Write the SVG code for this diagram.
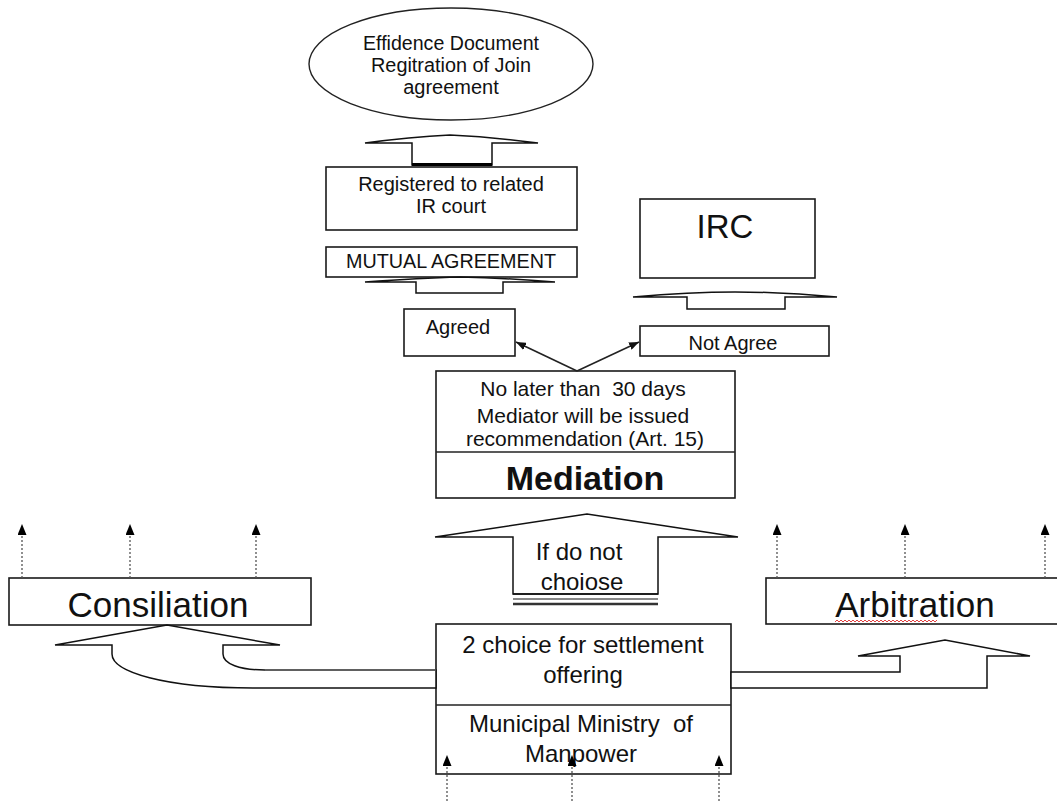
<svg xmlns="http://www.w3.org/2000/svg" width="1057" height="801" viewBox="0 0 1057 801">
<defs>
<style>
.box{fill:#fff;stroke:#1a1a1a;stroke-width:1.6}
.t{font-family:"Liberation Sans",Arial,sans-serif;fill:#111;text-anchor:middle}
.s20{font-size:20px}
.s21{font-size:21px}
.s24{font-size:24px}
.big{font-size:35px}
.blk{fill:#fff;stroke:#111;stroke-width:1.5;stroke-linejoin:miter}
.dot{stroke:#555;stroke-width:1.3;stroke-dasharray:2 2;fill:none}
.ln{stroke:#222;stroke-width:1.6;fill:none}
</style>
<marker id="tri" viewBox="0 0 11 9" markerWidth="11" markerHeight="9" refX="0" refY="4.5" orient="auto" markerUnits="userSpaceOnUse">
<path d="M0,0 L11,4.5 L0,9 z" fill="#000"/>
</marker>
<marker id="ah" viewBox="0 0 10 8" markerWidth="10" markerHeight="8" refX="10" refY="4" orient="auto" markerUnits="userSpaceOnUse">
<path d="M0,0 L10,4 L0,8 z" fill="#111"/>
</marker>
</defs>
<rect width="1057" height="801" fill="#fff"/>

<g id="evidence">
<ellipse cx="451" cy="64" rx="142" ry="56" fill="#fff" stroke="#222" stroke-width="1.4"/>
<text class="t s20" x="451" y="50" textLength="176" lengthAdjust="spacingAndGlyphs">Effidence Document</text>
<text class="t s20" x="451" y="72" textLength="160" lengthAdjust="spacingAndGlyphs">Regitration of Join</text>
<text class="t s20" x="451" y="94">agreement</text>
</g>

<g id="registered">
<rect class="box" x="326" y="167" width="251" height="63"/>
<text class="t s20" x="451" y="191">Registered to related</text>
<text class="t s20" x="451" y="213">IR court</text>
</g>

<g id="mutual">
<rect class="box" x="326" y="247" width="251" height="30"/>
<text class="t s20" x="451" y="268" textLength="210" lengthAdjust="spacingAndGlyphs">MUTUAL AGREEMENT</text>
</g>

<g id="irc">
<rect class="box" x="640" y="199" width="175" height="79"/>
<text class="t" style="font-size:33px" x="725" y="238">IRC</text>
</g>

<g id="agreed">
<rect class="box" x="404" y="309" width="111" height="47"/>
<text class="t s20" x="458" y="334">Agreed</text>
</g>

<g id="notagree">
<rect class="box" x="640" y="326" width="189" height="30"/>
<text class="t s20" x="733" y="350">Not Agree</text>
</g>

<g id="mediation">
<rect class="box" x="436" y="371" width="299" height="127"/>
<line class="ln" x1="436" y1="452" x2="735" y2="452"/>
<text class="t s21" x="583" y="396" style="white-space:pre">No later than  30 days</text>
<text class="t s21" x="583" y="423">Mediator will be issued</text>
<text class="t s21" x="585" y="446">recommendation (Art. 15)</text>
<text class="t" style="font-size:34px;font-weight:bold" x="585" y="490">Mediation</text>
</g>

<g id="consiliation">
<rect class="box" x="9" y="578" width="302" height="47"/>
<text class="t big" x="158" y="617">Consiliation</text>
</g>

<g id="arbitration">
<rect class="box" x="766" y="578" width="300" height="46"/>
<text class="t big" x="915" y="617">Arbitration</text>
<path d="M835,622 l2,-2 l2,2 l2,-2 l2,2 l2,-2 l2,2 l2,-2 l2,2 l2,-2 l2,2 l2,-2 l2,2 l2,-2 l2,2 l2,-2 l2,2 l2,-2 l2,2 l2,-2 l2,2 l2,-2 l2,2 l2,-2 l2,2 l2,-2 l2,2 l2,-2 l2,2 l2,-2 l2,2 l2,-2 l2,2 l2,-2 l2,2 l2,-2 l2,2 l2,-2 l2,2 l2,-2 l2,2 l2,-2 l2,2 l2,-2 l2,2 l2,-2 l2,2 l2,-2 l2,2 l2,-2 l2,2 l2,-2" fill="none" stroke="#e04040" stroke-width="1"/>
</g>

<g id="ministry">
<rect class="box" x="436" y="624" width="295" height="150"/>
<line class="ln" x1="436" y1="705" x2="731" y2="705"/>
<text class="t s24" x="583" y="653">2 choice for settlement</text>
<text class="t s24" x="583" y="683">offering</text>
<text class="t s24" x="581" y="732" style="white-space:pre">Municipal Ministry  of</text>
<text class="t s24" x="581" y="762">Manpower</text>
</g>

<g id="connectors">
<!-- block arrow: registered -> evidence -->
<path class="blk" d="M412,165 L412,143 L365,143 Q410,137 450,135 Q492,137 538,143 L492,143 L492,165 Z"/>
<line x1="412" y1="164.5" x2="492" y2="164.5" stroke="#000" stroke-width="3"/>
<!-- block arrow: agreed -> mutual -->
<path class="blk" d="M416,293 L416,282 L365,282 Q420,278 460,277 Q505,278 555,282 L503,282 L503,293 Z"/>
<!-- block arrow: not agree -> IRC -->
<path class="blk" d="M687,309 L687,297 L633,297 Q690,292 735,292 Q785,292 837,297 L785,297 L785,309 Z"/>
<!-- mediation -> agreed / not agree -->
<line class="ln" x1="577" y1="371" x2="516" y2="342" marker-end="url(#ah)"/>
<line class="ln" x1="577" y1="371" x2="639" y2="342" marker-end="url(#ah)"/>
<!-- block arrow: ministry -> mediation -->
<path class="blk" d="M513,594 L513,537 L435,537 L587,514 L738,537 L658,537 L658,594 Z"/>
<line x1="513" y1="594" x2="658" y2="594" stroke="#111" stroke-width="1.6"/>
<line x1="513" y1="599" x2="658" y2="599" stroke="#888" stroke-width="2"/>
<line x1="513" y1="604" x2="658" y2="604" stroke="#333" stroke-width="2.5"/>
<text class="t s24" x="579" y="560">If do not</text>
<text class="t s24" x="582" y="590">choiose</text>
<!-- bent block arrow: ministry -> consiliation -->
<path class="blk" d="M436,688 L253,688 C165,688 112,672 112,654 L112,645 L55,645 L167,625 L280,645 L223,645 L223,654 C223,664 240,670 265,670 L436,670 Z"/>
<line x1="265" y1="670" x2="436" y2="670" stroke="#777" stroke-width="1"/>
<!-- bent block arrow: ministry -> arbitration -->
<path class="blk" d="M731,672 L900,672 L900,656 L858,656 L945,640 L1030,656 L987,656 L987,688 L731,688 Z"/>
<!-- dotted arrows above consiliation -->
<line class="dot" x1="22" y1="578" x2="22" y2="535" marker-end="url(#tri)"/>
<line class="dot" x1="130" y1="578" x2="130" y2="535" marker-end="url(#tri)"/>
<line class="dot" x1="256" y1="578" x2="256" y2="535" marker-end="url(#tri)"/>
<!-- dotted arrows above arbitration -->
<line class="dot" x1="777" y1="578" x2="777" y2="535" marker-end="url(#tri)"/>
<line class="dot" x1="905" y1="578" x2="905" y2="535" marker-end="url(#tri)"/>
<line class="dot" x1="1045" y1="578" x2="1045" y2="535" marker-end="url(#tri)"/>
<!-- dotted arrows into ministry -->
<line class="dot" x1="447" y1="801" x2="447" y2="766" marker-end="url(#tri)"/>
<line class="dot" x1="572" y1="801" x2="572" y2="766" marker-end="url(#tri)"/>
<line class="dot" x1="719" y1="801" x2="719" y2="766" marker-end="url(#tri)"/>
</g>
</svg>
